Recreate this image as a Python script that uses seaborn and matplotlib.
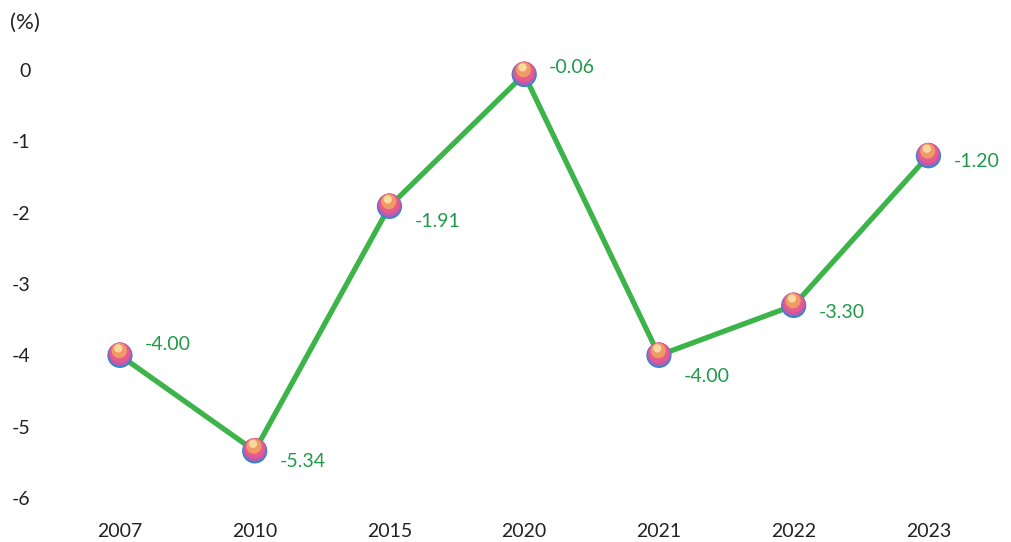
import matplotlib
matplotlib.use("Agg")
import matplotlib.pyplot as plt
import matplotlib.transforms as mtransforms
import seaborn as sns
import pandas as pd

# chart values
years = ["2007", "2010", "2015", "2020", "2021", "2022", "2023"]
rates = [-4.00, -5.34, -1.91, -0.06, -4.00, -3.30, -1.20]
value_labels = ["-4.00", "-5.34", "-1.91", "-0.06", "-4.00", "-3.30", "-1.20"]
yticks = [0, -1, -2, -3, -4, -5, -6]

# label offsets (points) relative to each marker
label_dy = [8, -8, -11, 5, -15, -5, -4]

df = pd.DataFrame({"year": years, "rate": rates})

sns.set_theme(style="white")
plt.rcParams["font.family"] = ["Lato", "DejaVu Sans"]

fig = plt.figure(figsize=(10.11, 5.42), dpi=100)
ax = fig.add_axes([0.052, 0.055, 0.933, 0.855])

sns.lineplot(data=df, x="year", y="rate", sort=False, color="#3cb44a",
             linewidth=3.8, ax=ax, zorder=2)

# glossy ball markers built from stacked circles
def shifted(dx, dy):
    return ax.transData + mtransforms.ScaledTranslation(dx / 72, dy / 72, fig.dpi_scale_trans)

xs = list(range(len(years)))
ax.scatter(xs, rates, s=330, color="#2f86c9", edgecolors="none", zorder=3)
ax.scatter(xs, rates, s=285, color="#b95cb0", edgecolors="none", zorder=4,
           transform=shifted(0, 0.8))
ax.scatter(xs, rates, s=215, color="#e65a8c", edgecolors="none", zorder=5,
           transform=shifted(0, 2.0))
ax.scatter(xs, rates, s=120, color="#f09a68", edgecolors="none", zorder=6,
           transform=shifted(-0.5, 3.4))
ax.scatter(xs, rates, s=35, color="#f9d9a0", edgecolors="none", zorder=7,
           transform=shifted(-1.2, 5.0))

for x, y, lab, dy in zip(xs, rates, value_labels, label_dy):
    ax.annotate(lab, (x, y), xytext=(18, dy), textcoords="offset points",
                ha="left", va="center", fontsize=14, color="#1f9a48")

ax.set_xlim(-0.5, len(years) - 0.5)
ax.set_ylim(-6.2, 0.3)
ax.set_yticks(yticks)
ax.set_yticklabels([str(t) for t in yticks])
ax.set_xlabel("")
ax.set_ylabel("")
ax.tick_params(axis="y", length=0, pad=16, labelsize=14, labelcolor="#222222")
ax.tick_params(axis="x", length=0, pad=8, labelsize=14, labelcolor="#222222")
for s in ax.spines.values():
    s.set_visible(False)
ax.grid(False)

fig.text(0.01, 0.957, "(%)", fontsize=16, color="#222222", ha="left", va="center")

fig.savefig("out.png", dpi=100)
